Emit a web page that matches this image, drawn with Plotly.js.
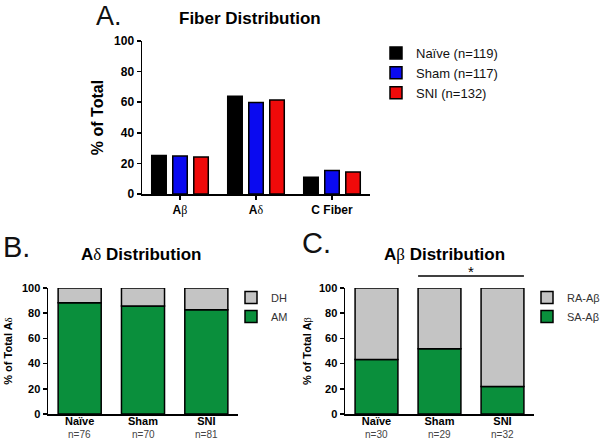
<!DOCTYPE html>
<html><head><meta charset="utf-8">
<script src="https://cdn.plot.ly/plotly-3.0.1.min.js"></script>
<style>html,body{margin:0;padding:0;background:#fff}</style>
</head><body><div id="chart" style="width:600px;height:439px"></div>
<script>
// ---- Panel A data ----
const fiberTypes = ['Aβ', 'Aδ', 'C Fiber'];
const groupNames = ['Naïve (n=119)', 'Sham (n=117)', 'SNI (n=132)'];
const naivePct = [25.2, 63.9, 10.9];
const shamPct = [24.8, 59.8, 15.4];
const sniPct = [24.2, 61.4, 14.4];

// ---- Panel B data ----
const conditions = ['Naïve', 'Sham', 'SNI'];
const adeltaN = ['n=76', 'n=70', 'n=81'];
const amPct = [88.2, 85.7, 82.7];
const dhPct = [11.8, 14.3, 17.3];

// ---- Panel C data ----
const abetaN = ['n=30', 'n=29', 'n=32'];
const saPct = [43.3, 51.7, 21.9];
const raPct = [56.7, 48.3, 78.1];

const yTicks = [0, 20, 40, 60, 80, 100];

const FONT = 'Liberation Sans, Arial, Helvetica, sans-serif';
const greek = s => s.replace(/([βδ])/g, '<span style="font-family:Liberation Serif,serif;font-weight:normal">$1</span>');
const GREEN = '#0a8f3c', GRAY = '#c4c4c4';
const outline = {color: '#000', width: 1.5};

const traces = [
  {type: 'bar', name: groupNames[0], x: fiberTypes, y: naivePct, xaxis: 'x', yaxis: 'y', legend: 'legend',
   marker: {color: '#000000', line: outline}},
  {type: 'bar', name: groupNames[1], x: fiberTypes, y: shamPct, xaxis: 'x', yaxis: 'y', legend: 'legend',
   marker: {color: '#0a0af0', line: outline}},
  {type: 'bar', name: groupNames[2], x: fiberTypes, y: sniPct, xaxis: 'x', yaxis: 'y', legend: 'legend',
   marker: {color: '#f00a0a', line: outline}},
  {type: 'bar', name: 'AM', x: conditions, y: amPct, xaxis: 'x2', yaxis: 'y2', legend: 'legend2',
   offsetgroup: 'b', width: 0.68, marker: {color: GREEN, line: outline}},
  {type: 'bar', name: 'DH', x: conditions, y: dhPct, base: amPct, xaxis: 'x2', yaxis: 'y2', legend: 'legend2',
   offsetgroup: 'b', width: 0.68, marker: {color: GRAY, line: outline}},
  {type: 'bar', name: 'SA-Aβ', x: conditions, y: saPct, xaxis: 'x3', yaxis: 'y3', legend: 'legend3',
   offsetgroup: 'c', width: 0.68, marker: {color: GREEN, line: outline}},
  {type: 'bar', name: 'RA-Aβ', x: conditions, y: raPct, base: saPct, xaxis: 'x3', yaxis: 'y3', legend: 'legend3',
   offsetgroup: 'c', width: 0.68, marker: {color: GRAY, line: outline}}
];

const axBase = {showline: true, linecolor: '#000', linewidth: 1.5, showgrid: false, zeroline: false,
  tickcolor: '#000', tickwidth: 1.5, fixedrange: true, automargin: false};

function yAx(domain, anchor, size, title, tsize, standoff) {
  return Object.assign({}, axBase, {domain: domain, anchor: anchor, range: [0, 100], tickvals: yTicks,
    ticks: 'outside', ticklen: 4, tickfont: {family: FONT, size: size, weight: 'bold', color: '#000'},
    title: {text: title, standoff: standoff, font: {family: FONT, size: tsize, weight: 'bold', color: '#000'}}});
}
function xAx(domain, anchor, cats, size, ticks, lso) {
  return Object.assign({}, axBase, {domain: domain, anchor: anchor, type: 'category', range: [-0.5, 2.5],
    tickvals: cats, ticktext: cats.map(greek), ticks: ticks, ticklen: 4, ticklabelstandoff: lso,
    tickfont: {family: FONT, size: size, weight: 'bold', color: '#000'}});
}

const annotations = [
  {text: 'A.', x: 95/600, y: 1, yanchor: 'top', borderpad: 0, font: {family: FONT, size: 27, color: '#111'}},
  {text: 'Fiber Distribution', x: 250/600, y: 1 - 19/439, xanchor: 'center', font: {family: FONT, size: 17, weight: 'bold', color: '#000'}},
  {text: 'B.', x: 1/600, y: 1 - 247/439, font: {family: FONT, size: 29, color: '#111'}},
  {text: greek('Aδ Distribution'), x: 141/600, y: 1 - 254/439, xanchor: 'center', font: {family: FONT, size: 17, weight: 'bold', color: '#000'}},
  {text: 'C.', x: 300/600, y: 1 - 243/439, font: {family: FONT, size: 29, color: '#111'}},
  {text: greek('Aβ Distribution'), x: 444/600, y: 1 - 254/439, xanchor: 'center', font: {family: FONT, size: 17, weight: 'bold', color: '#000'}},
  {text: '*', xref: 'x3', x: 1.5, y: 1 - 271/439, xanchor: 'center', font: {family: FONT, size: 15, color: '#000'}}
].map(a => Object.assign({xref: 'paper', yref: 'paper', xanchor: 'left', yanchor: 'middle', showarrow: false}, a));

conditions.forEach((c, i) => {
  annotations.push({text: adeltaN[i], xref: 'x2', x: c, yref: 'paper', y: 1 - 434/439, yanchor: 'middle',
    showarrow: false, borderpad: 0, font: {family: FONT, size: 10, color: '#444'}});
  annotations.push({text: abetaN[i], xref: 'x3', x: c, yref: 'paper', y: 1 - 434/439, yanchor: 'middle',
    showarrow: false, borderpad: 0, font: {family: FONT, size: 10, color: '#444'}});
});

const legBase = {orientation: 'v', bgcolor: 'rgba(0,0,0,0)', borderwidth: 0, xanchor: 'left', yanchor: 'top', itemclick: false, itemdoubleclick: false};

const layout = {
  width: 600, height: 439, autosize: false,
  margin: {l: 0, r: 0, t: 0, b: 0, pad: 0, autoexpand: false},
  paper_bgcolor: '#fff', plot_bgcolor: '#fff',
  barmode: 'group', bargap: 0.17, bargroupgap: 0.31,
  font: {family: FONT, color: '#000'},
  xaxis: xAx([142/600, 370/600], 'y', fiberTypes, 12, 'outside', 0),
  yaxis: yAx([1 - 194/439, 1 - 41/439], 'x', 12, '% of Total', 16, 6),
  xaxis2: xAx([48/600, 238/600], 'y2', conditions, 11, '', -4),
  yaxis2: yAx([1 - 414/439, 1 - 288/439], 'x2', 11, greek('% of Total Aδ'), 11, 7),
  xaxis3: xAx([345/600, 534/600], 'y3', conditions, 11, '', -4),
  yaxis3: yAx([1 - 414/439, 1 - 288/439], 'x3', 11, greek('% of Total Aβ'), 11, 5),
  legend: Object.assign({}, legBase, {x: 376/600, y: 1 - 38/439, traceorder: 'normal', font: {family: FONT, size: 13, color: '#111'}}),
  legend2: Object.assign({}, legBase, {x: 231/600, y: 1 - 283/439, traceorder: 'reversed', font: {family: FONT, size: 11, color: '#333'}}),
  legend3: Object.assign({}, legBase, {x: 527/600, y: 1 - 283/439, traceorder: 'reversed', font: {family: FONT, size: 11, color: '#333'}}),
  shapes: [{type: 'line', xref: 'x3', yref: 'paper', x0: 0.66, x1: 2.34, y0: 1 - 276/439, y1: 1 - 276/439,
    line: {color: '#000', width: 1.5}}],
  annotations: annotations
};

Plotly.newPlot('chart', traces, layout, {displayModeBar: false, staticPlot: true});
</script>
</body></html>
